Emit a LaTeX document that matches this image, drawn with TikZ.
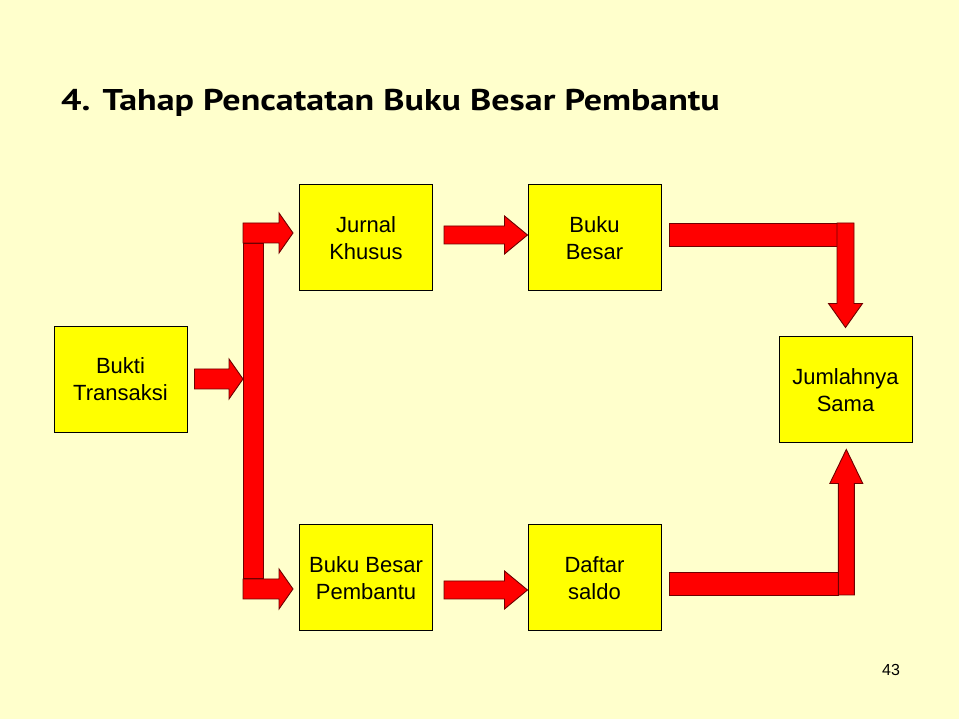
\documentclass[tikz,border=0pt]{standalone}
\usepackage{fontspec}
\setmainfont{Liberation Sans}
\newfontfamily\titlefont[FakeStretch=1.2]{PT Sans}
\usetikzlibrary{calc}

\definecolor{bgyellow}{HTML}{FFFFCC}
\definecolor{boxyellow}{HTML}{FFFF00}
\definecolor{blkred}{HTML}{FF0000}
\definecolor{blkline}{HTML}{6E0000}

\tikzset{
  box/.style={draw=black, line width=1pt, fill=boxyellow, minimum width=133pt,
    minimum height=106pt, inner sep=0pt, align=center,
    font=\fontsize{22}{27}\selectfont},
  blk/.style={fill=blkred, draw=blkline, line width=0.9pt, line join=miter},
}

% block arrow to the right: tail, tip, shaft half, head half, head length
\newcommand{\rarrow}[5]{\path[blk] let \p1=#1, \p2=#2 in
  (\x1,\y2+#3) -- (\x2-#5,\y2+#3) -- (\x2-#5,\y2+#4) -- (\x2,\y2)
  -- (\x2-#5,\y2-#4) -- (\x2-#5,\y2-#3) -- (\x1,\y2-#3) -- cycle;}
% block arrow up or down: tail, tip, shaft half, head half, signed head length
\newcommand{\varrow}[5]{\path[blk] let \p1=#1, \p2=#2 in
  (\x2-#3,\y1) -- (\x2-#3,\y2-#5) -- (\x2-#4,\y2-#5) -- (\x2,\y2)
  -- (\x2+#4,\y2-#5) -- (\x2+#3,\y2-#5) -- (\x2+#3,\y1) -- cycle;}

\begin{document}
\begin{tikzpicture}[x=1pt, y=1pt]
  \fill[bgyellow] (0,0) rectangle (959,719);

  \node[anchor=base west, inner sep=0pt, font=\titlefont\bfseries\fontsize{30}{34}\selectfont] (title)
    at (61,608) {4. Tahap Pencatatan Buku Besar Pembantu};

  \node[box] (bukti)    at (120.5,339.5) {Bukti\\Transaksi};
  \node[box] (jurnal)   at (366,481)     {Jurnal\\Khusus};
  \node[box] (buku)     at (594.5,481)   {Buku\\Besar};
  \node[box] (jumlah)   at (845.5,329)   {Jumlahnya\\Sama};
  \node[box] (pembantu) at (366,141)     {Buku Besar\\Pembantu};
  \node[box] (daftar)   at (594.5,141)   {Daftar\\saldo};

  \node[font=\fontsize{16}{19}\selectfont] (page) at (891,49) {43};

  % split after Bukti Transaksi
  \coordinate (trunktop) at (253,476);
  \coordinate (trunkbot) at (253,140.5);
  \rarrow{($(bukti.east)+(7,0)$)}{(243,340)}{10}{20}{14}
  \rarrow{(243,486)}{($(jurnal.west)+(-6,5)$)}{10}{20}{14}
  \rarrow{(243,130)}{($(pembantu.west)+(-6,-11)$)}{10}{20}{14}
  \path[blk] ($(trunkbot)+(-10,0)$) rectangle ($(trunktop)+(10,0)$);

  % middle arrows
  \rarrow{($(jurnal.east)+(11,3)$)}{($(buku.west)+(0,3)$)}{9}{19}{23}
  \rarrow{($(pembantu.east)+(11,-12)$)}{($(daftar.west)+(0,-12)$)}{9}{19}{23}

  % to Jumlahnya Sama
  \coordinate (cornertop) at (845.5,496);
  \coordinate (cornerbot) at (846.3,124);
  \path[blk] ($(buku.east)+(8,15)$) rectangle (837,473);
  \varrow{(cornertop)}{($(jumlah.north)+(0,9)$)}{8.5}{17}{-24}
  \path[blk] ($(daftar.east)+(8,6)$) rectangle (838.3,124);
  \varrow{(cornerbot)}{($(jumlah.south)+(0.8,-6)$)}{8}{16.5}{34}
\end{tikzpicture}
\end{document}
